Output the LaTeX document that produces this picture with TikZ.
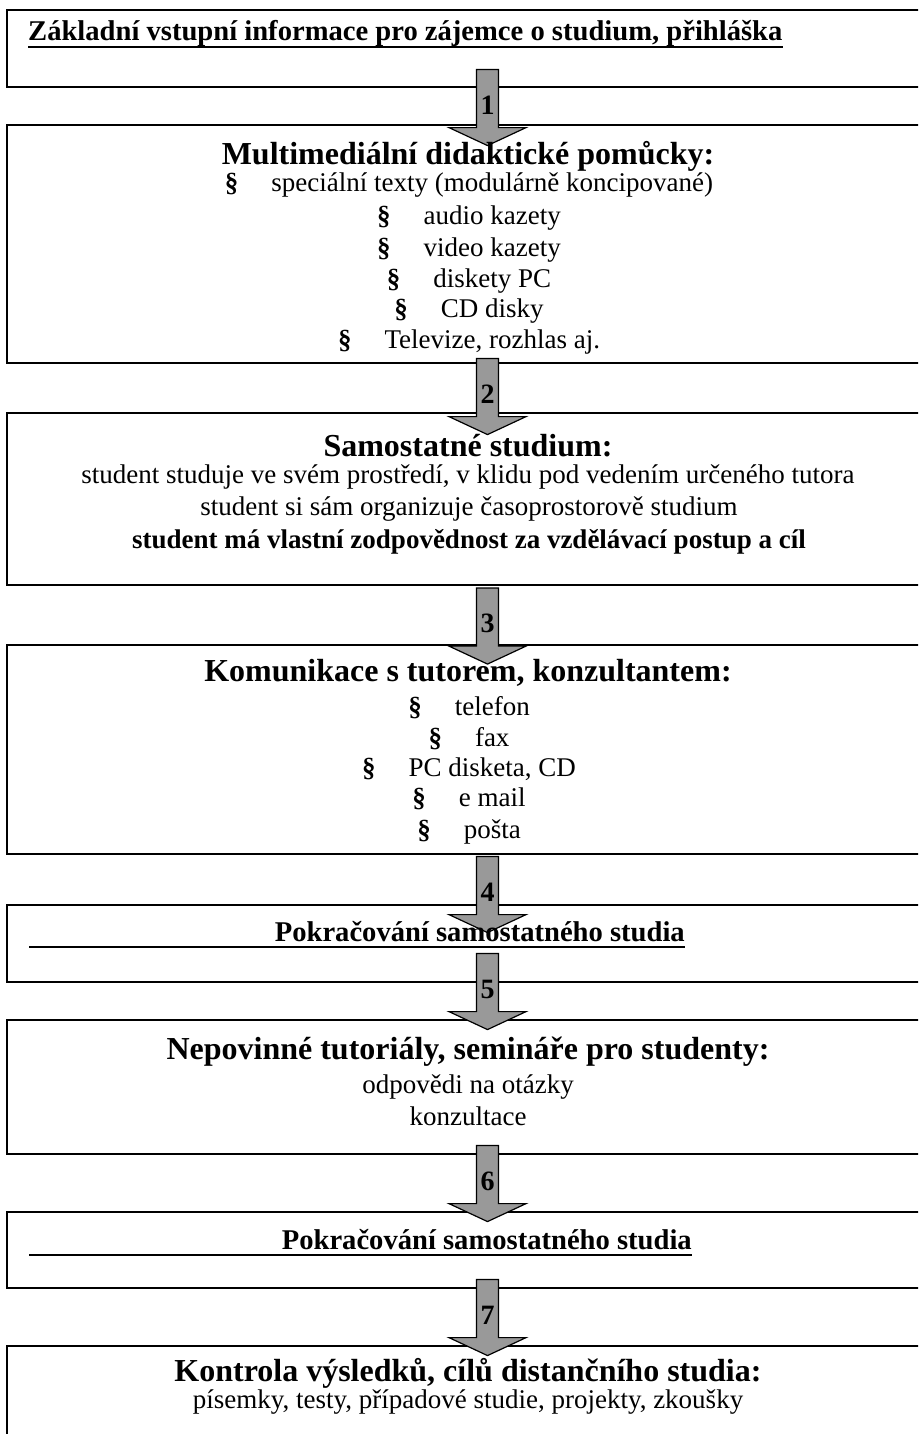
\documentclass[tikz,border=0pt]{standalone}
\usepackage{fontspec}
\setmainfont{Liberation Serif}
\usetikzlibrary{shapes.arrows}

\definecolor{stepgray}{HTML}{999999}
\tikzstyle{stage} = [rectangle, draw=black, line width=1.6pt, anchor=north west, minimum width=922pt, inner sep=0pt, outer sep=0pt]
\tikzstyle{headline} = [anchor=base, inner sep=0pt, font=\bfseries\fontsize{32}{36}\selectfont]
\tikzstyle{textline} = [anchor=base, inner sep=0pt, font=\fontsize{27}{31}\selectfont]
\tikzstyle{boldline} = [anchor=base, inner sep=0pt, font=\bfseries\fontsize{27}{31}\selectfont]
\tikzstyle{markline} = [inner sep=0pt, font=\bfseries\fontsize{28.6}{32}\selectfont]
\tikzstyle{arrowstep} = [single arrow, draw=black, line width=1.2pt, fill=stepgray, shape border rotate=270, minimum height=76pt, minimum width=77pt, single arrow head extend=19pt, single arrow tip angle=130, inner sep=0pt, font=\bfseries\fontsize{28}{30}\selectfont]
\tikzstyle{uline} = [line width=1.8pt]
\newcommand{\sect}{\textbf{§}\hspace{33pt}}

\begin{document}
\begin{tikzpicture}[x=1pt, y=-1pt]
	\path[use as bounding box, clip] (0,0) rectangle (918,1434);

	% boxes
	\node (box1) [stage, minimum height=77pt] at (7,10) {};
	\node (box2) [stage, minimum height=238pt] at (7,125) {};
	\node (box3) [stage, minimum height=172pt] at (7,413) {};
	\node (box4) [stage, minimum height=209pt] at (7,645) {};
	\node (box5) [stage, minimum height=77pt] at (7,905) {};
	\node (box6) [stage, minimum height=134pt] at (7,1020) {};
	\node (box7) [stage, minimum height=76pt] at (7,1212) {};
	\node (box8) [stage, minimum height=120pt] at (7,1346) {};

	% arrows
	\node (step1) [arrowstep] at (487.5,105) {1};
	\node (step2) [arrowstep] at (487.5,394) {2};
	\node (step3) [arrowstep] at (487.5,623.5) {3};
	\node (step4) [arrowstep] at (487.5,892) {4};
	\node (step5) [arrowstep] at (487.5,989) {5};
	\node (step6) [arrowstep] at (487.5,1181) {6};
	\node (step7) [arrowstep] at (487.5,1315) {7};

	% texts
	\node (entry) [markline, anchor=base west] at (28,41) {Základní vstupní informace pro zájemce o studium, přihláška};
	\coordinate (u1) at (28,47);
	\draw [uline] (u1) -- (u1 -| entry.east);

	\node (media) [headline] at (468,165) {Multimediální didaktické pomůcky:};
	\node (media1) [textline] at (469,192) {\sect speciální texty (modulárně koncipované)};
	\node (media2) [textline] at (469,224) {\sect audio kazety};
	\node (media3) [textline] at (469,256) {\sect video kazety};
	\node (media4) [textline] at (469,287) {\sect diskety PC};
	\node (media5) [textline] at (469,317) {\sect CD disky};
	\node (media6) [textline] at (469,348) {\sect Televize, rozhlas aj.};

	\node (self) [headline] at (468,456) {Samostatné studium:};
	\node (self1) [textline] at (468,483) {student studuje ve svém prostředí, v klidu pod vedením určeného tutora};
	\node (self2) [textline] at (469,515) {student si sám organizuje časoprostorově studium};
	\node (self3) [boldline] at (469,548) {student má vlastní zodpovědnost za vzdělávací postup a cíl};

	\node (tutor) [headline] at (468,681) {Komunikace s tutorem, konzultantem:};
	\node (tutor1) [textline] at (469,715) {\sect telefon};
	\node (tutor2) [textline] at (469,746) {\sect fax};
	\node (tutor3) [textline] at (469,776) {\sect PC disketa, CD};
	\node (tutor4) [textline] at (469,806) {\sect e mail};
	\node (tutor5) [textline] at (469,838) {\sect pošta};

	\node (cont1) [markline, anchor=base east] at (685,941) {Pokračování samostatného studia};
	\coordinate (u5) at (29,947);
	\draw [uline] (u5) -- (u5 -| cont1.east);

	\node (sem) [headline] at (468,1059) {Nepovinné tutoriály, semináře pro studenty:};
	\node (sem1) [textline] at (468,1093) {odpovědi na otázky};
	\node (sem2) [textline] at (468,1125) {konzultace};

	\node (cont2) [markline, anchor=base east] at (692,1249) {Pokračování samostatného studia};
	\coordinate (u7) at (29,1255);
	\draw [uline] (u7) -- (u7 -| cont2.east);

	\node (check) [headline] at (468,1381) {Kontrola výsledků, cílů distančního studia:};
	\node (check1) [textline] at (468,1408) {písemky, testy, případové studie, projekty, zkoušky};
\end{tikzpicture}
\end{document}
